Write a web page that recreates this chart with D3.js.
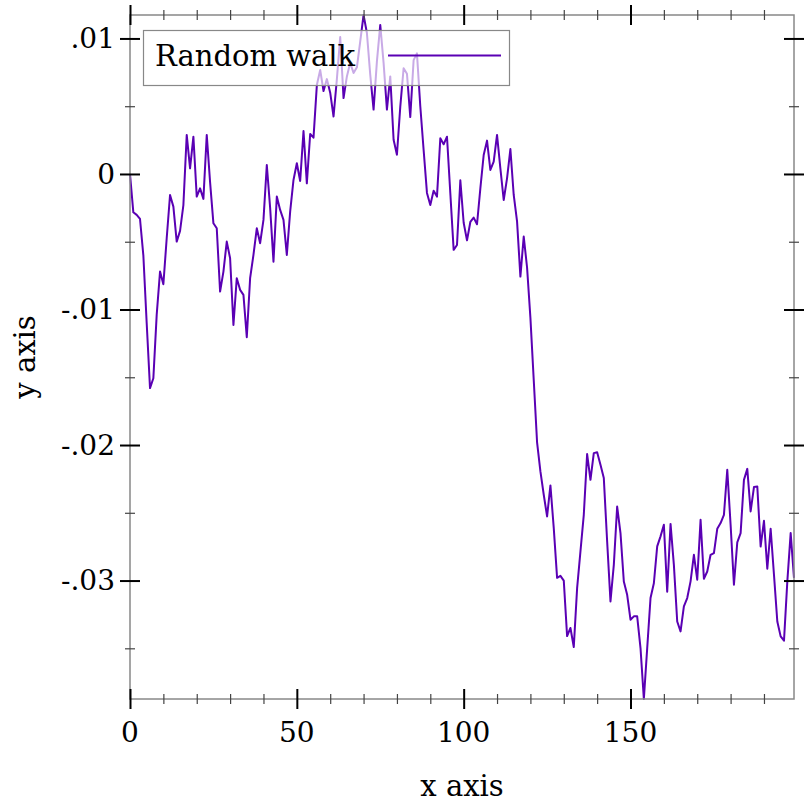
<!DOCTYPE html>
<html>
<head>
<meta charset="utf-8">
<script src="https://cdn.jsdelivr.net/npm/d3@7"></script>
<style>
  body { margin: 0; background: #fff; }
  svg text { font-family: "DejaVu Serif", serif; fill: #000; }
</style>
</head>
<body>
<svg id="chart" width="812" height="812"></svg>
<script>
// random walk values, one per step (x = step index)
var walk = [
  0, -0.00283, -0.00302, -0.00332, -0.0060, -0.0110, -0.0158, -0.01507, -0.0104, -0.0072,
  -0.00814, -0.00474, -0.00155, -0.00241, -0.00499, -0.0042, -0.00229, 0.00288, 0.00042, 0.00275,
  -0.00167, -0.00106, -0.00184, 0.00288, -0.0006, -0.00364, -0.00401, -0.00868, -0.0072, -0.00499,
  -0.00622, -0.01114, -0.00769, -0.00855, -0.00892, -0.01204, -0.00769, -0.00597, -0.00401, -0.00511,
  -0.00339, 0.00066, -0.0025, -0.00647, -0.00167, -0.00265, -0.00339, -0.00597, -0.00278, -0.00044,
  0.00079, -0.00052, 0.00317, -0.00069, 0.00295, 0.00268, 0.00656, 0.00767, 0.00612, 0.0070,
  0.0060, 0.00424, 0.0070, 0.0101, 0.0056, 0.0072, 0.0082, 0.00745, 0.00787, 0.00979,
  0.01173, 0.0104, 0.00733, 0.00475, 0.00831, 0.0110, 0.0082, 0.00475, 0.0072, 0.00253,
  0.00142, 0.00495, 0.0078, 0.0074, 0.0042, 0.0084, 0.0089, 0.0050, 0.00177, -0.0014,
  -0.00229, -0.00123, -0.00167, 0.00263, 0.00219, 0.00275, -0.00142, -0.0056, -0.00524, -0.00046,
  -0.0036, -0.0049, -0.00354, -0.00322, -0.00371, -0.00106, 0.0014, 0.00246, 0.0003, 0.00091,
  0.00288, 0.00042, -0.00192, -0.00032, 0.00184, -0.00155, -0.0035, -0.00757, -0.00462, -0.0069,
  -0.0106, -0.0152, -0.0198, -0.02195, -0.02367, -0.02527, -0.02298, -0.02613, -0.0298, -0.02965,
  -0.030, -0.0341, -0.0335, -0.0349, -0.03056, -0.02785, -0.02515, -0.02067, -0.02257, -0.0206,
  -0.02053, -0.02146, -0.02244, -0.02712, -0.03154, -0.02884, -0.02454, -0.0265, -0.03007, -0.03105,
  -0.03289, -0.03264, -0.03264, -0.03498, -0.03874, -0.035, -0.03129, -0.0302, -0.02748, -0.02674,
  -0.02588, -0.03082, -0.02582, -0.02884, -0.03302, -0.03375, -0.03191, -0.03129, -0.03006, -0.0281,
  -0.02994, -0.02552, -0.02987, -0.02933, -0.0281, -0.02797, -0.02618, -0.02576, -0.02515, -0.02183,
  -0.02588, -0.03031, -0.02718, -0.0265, -0.02257, -0.02176, -0.0249, -0.0231, -0.02306, -0.02749,
  -0.02559, -0.02913, -0.02618, -0.02957, -0.03302, -0.03412, -0.03444, -0.03006, -0.0265, -0.0298
];

var xTicks = [0, 50, 100, 150];
var xMinorTicks = [10, 20, 30, 40, 60, 70, 80, 90, 110, 120, 130, 140, 160, 170, 180, 190];
var yTicks = [0.01, 0, -0.01, -0.02, -0.03];
var yTickLabels = [".01", "0", "-.01", "-.02", "-.03"];
var yMinorTicks = [0.005, -0.005, -0.015, -0.025, -0.035];
var seriesName = "Random walk";

var svg = d3.select("#chart"),
    pLeft = 130, pRight = 794, pTop = 15, pBottom = 699;

var x = d3.scaleLinear().domain([0, walk.length - 1]).range([pLeft, pRight]);
var y = d3.scaleLinear().domain(d3.extent(walk)).range([pBottom, pTop]);

var lineColor = "#5a00b4";

// data line
var line = d3.line()
    .x(function(d, i) { return x(i); })
    .y(function(d) { return y(d); });

svg.append("path")
    .datum(walk)
    .attr("fill", "none")
    .attr("stroke", lineColor)
    .attr("stroke-width", 2)
    .attr("stroke-linejoin", "round")
    .attr("d", line);

// frame
svg.append("rect")
    .attr("x", pLeft).attr("y", pTop)
    .attr("width", pRight - pLeft).attr("height", pBottom - pTop)
    .attr("fill", "none")
    .attr("stroke", "#888")
    .attr("stroke-width", 1.5);

// ticks on all four sides, centred on the frame
function tickAxis(axisFn, scale, vals, len, transform, width, color) {
  svg.append("g")
      .attr("transform", transform)
      .call(axisFn(scale).tickValues(vals).tickSize(len).tickFormat(""))
      .call(function(g) { g.select(".domain").remove(); })
      .selectAll("line")
      .attr("stroke", color)
      .attr("stroke-width", width);
}
[pBottom - 10, pTop - 10].forEach(function(ty) {
  tickAxis(d3.axisBottom, x, xTicks, 20, "translate(0," + ty + ")", 2, "#000");
});
[pBottom - 5, pTop - 5].forEach(function(ty) {
  tickAxis(d3.axisBottom, x, xMinorTicks, 10, "translate(0," + ty + ")", 1.2, "#444");
});
[pLeft + 10, pRight + 10].forEach(function(tx) {
  tickAxis(d3.axisLeft, y, yTicks, 20, "translate(" + tx + ",0)", 2, "#000");
});
[pLeft + 5, pRight + 5].forEach(function(tx) {
  tickAxis(d3.axisLeft, y, yMinorTicks, 10, "translate(" + tx + ",0)", 1.2, "#444");
});

// tick labels
svg.append("g").selectAll("text")
    .data(xTicks)
  .enter().append("text")
    .attr("x", function(d) { return x(d); })
    .attr("y", 742)
    .attr("text-anchor", "middle")
    .attr("font-size", 28)
    .text(function(d) { return d; });

svg.append("g").selectAll("text")
    .data(yTicks)
  .enter().append("text")
    .attr("x", 115)
    .attr("y", function(d) { return y(d); })
    .attr("dy", "0.35em")
    .attr("text-anchor", "end")
    .attr("font-size", 28)
    .text(function(d, i) { return yTickLabels[i]; });

// axis titles
svg.append("text")
    .attr("x", (pLeft + pRight) / 2)
    .attr("y", 796)
    .attr("text-anchor", "middle")
    .attr("font-size", 29)
    .text("x axis");

svg.append("text")
    .attr("transform", "translate(35," + (pTop + pBottom) / 2 + ") rotate(-90)")
    .attr("text-anchor", "middle")
    .attr("font-size", 29)
    .text("y axis");

// legend
var legend = svg.append("g");
legend.append("rect")
    .attr("x", 143.5).attr("y", 30.5)
    .attr("width", 366).attr("height", 55)
    .attr("fill", "#fff")
    .attr("fill-opacity", 0.667)
    .attr("stroke", "#888")
    .attr("stroke-width", 1.2);
legend.append("text")
    .attr("x", 155)
    .attr("y", 66)
    .attr("font-size", 29)
    .text(seriesName);
legend.append("line")
    .attr("x1", 388).attr("x2", 501)
    .attr("y1", 55.5).attr("y2", 55.5)
    .attr("stroke", lineColor)
    .attr("stroke-width", 2);
</script>
</body>
</html>
